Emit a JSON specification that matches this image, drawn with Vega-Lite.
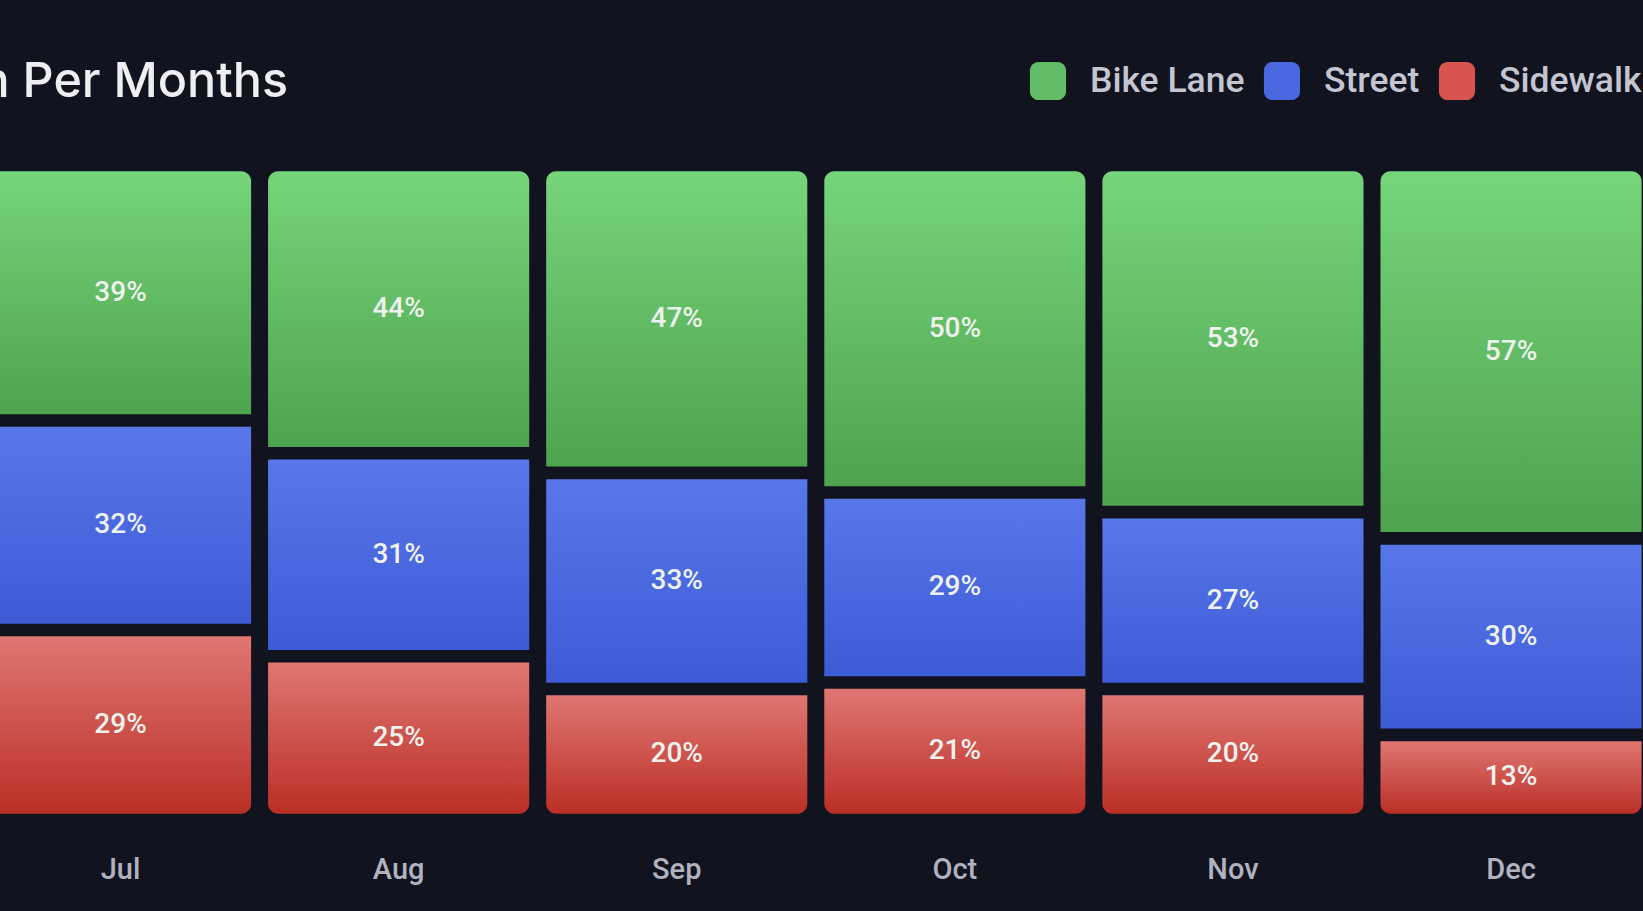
{
  "$schema": "https://vega.github.io/schema/vega-lite/v6.json",
  "width": 1668.6,
  "height": 655,
  "autosize": {"type": "none"},
  "padding": {"left": -18.5, "top": 165, "right": -7, "bottom": 91},
  "background": "#11131e",
  "config": {"view": {"stroke": null}},
  "title": {
    "text": "n Per Months",
    "anchor": "start",
    "frame": "group",
    "dx": -1,
    "offset": -83,
    "baseline": "alphabetic",
    "font": "Inter",
    "fontSize": 48.5,
    "fontWeight": 500,
    "color": "#eeeef3"
  },
  "data": {
    "values": [
      {"month": "Jul", "cat": "Bike Lane", "order": 3, "pct": 39},
      {"month": "Jul", "cat": "Street", "order": 2, "pct": 32},
      {"month": "Jul", "cat": "Sidewalk", "order": 1, "pct": 29},
      {"month": "Aug", "cat": "Bike Lane", "order": 3, "pct": 44},
      {"month": "Aug", "cat": "Street", "order": 2, "pct": 31},
      {"month": "Aug", "cat": "Sidewalk", "order": 1, "pct": 25},
      {"month": "Sep", "cat": "Bike Lane", "order": 3, "pct": 47},
      {"month": "Sep", "cat": "Street", "order": 2, "pct": 33},
      {"month": "Sep", "cat": "Sidewalk", "order": 1, "pct": 20},
      {"month": "Oct", "cat": "Bike Lane", "order": 3, "pct": 50},
      {"month": "Oct", "cat": "Street", "order": 2, "pct": 29},
      {"month": "Oct", "cat": "Sidewalk", "order": 1, "pct": 21},
      {"month": "Nov", "cat": "Bike Lane", "order": 3, "pct": 53},
      {"month": "Nov", "cat": "Street", "order": 2, "pct": 27},
      {"month": "Nov", "cat": "Sidewalk", "order": 1, "pct": 20},
      {"month": "Dec", "cat": "Bike Lane", "order": 3, "pct": 57},
      {"month": "Dec", "cat": "Street", "order": 2, "pct": 30},
      {"month": "Dec", "cat": "Sidewalk", "order": 1, "pct": 13}
    ]
  },
  "transform": [
    {"stack": "pct", "groupby": ["month"], "sort": [{"field": "order", "order": "ascending"}], "as": ["y0", "y1"]},
    {"calculate": "(datum.y0 + datum.y1) / 2", "as": "ymid"},
    {"calculate": "datum.pct + '%'", "as": "label"}
  ],
  "encoding": {
    "x": {
      "field": "month",
      "type": "nominal",
      "sort": ["Jul", "Aug", "Sep", "Oct", "Nov", "Dec"],
      "scale": {"paddingInner": 0.061, "paddingOuter": 0.0305},
      "axis": {
        "title": null,
        "domain": false,
        "ticks": false,
        "labelAngle": 0,
        "labelFont": "Roboto",
        "labelFontSize": 29,
        "labelFontWeight": 500,
        "labelColor": "#b0b3bf",
        "labelPadding": 36
      }
    }
  },
  "layer": [
    {
      "mark": {"type": "bar", "opacity": 0, "yOffset": 6.3, "y2Offset": -6.3},
      "encoding": {
        "y": {"field": "y1", "type": "quantitative", "scale": {"domain": [0, 100]}, "axis": null},
        "y2": {"field": "y0"},
        "color": {
          "field": "cat",
          "type": "nominal",
          "scale": {
            "domain": ["Bike Lane", "Street", "Sidewalk"],
            "range": ["#62bd66", "#4a69e0", "#d8544e"]
          },
          "legend": {
            "orient": "none",
            "legendX": 1047.5,
            "legendY": -103,
            "direction": "horizontal",
            "title": null,
            "padding": 0,
            "symbolType": "M-0.95,-0.55A0.45,0.45,0,0,1,-0.5,-1L0.5,-1A0.45,0.45,0,0,1,0.95,-0.55L0.95,0.55A0.45,0.45,0,0,1,0.5,1L-0.5,1A0.45,0.45,0,0,1,-0.95,0.55Z",
            "symbolSize": 1444,
            "symbolStrokeWidth": 0,
            "symbolOpacity": 1,
            "labelFont": "Roboto",
            "labelFontSize": 35.5,
            "labelFontWeight": 500,
            "labelColor": "#c3c6d0",
            "labelOffset": 23,
            "columnPadding": 18
          }
        }
      }
    },
    {
      "transform": [{"filter": "datum.cat === 'Bike Lane'"}],
      "mark": {
        "type": "bar",
        "yOffset": 6.3,
        "y2Offset": -6.3,
        "cornerRadiusTopLeft": 10,
        "cornerRadiusTopRight": 10,
        "color": {"gradient": "linear", "x1": 0, "y1": 0, "x2": 0, "y2": 1, "stops": [{"offset": 0, "color": "#76d57b"}, {"offset": 1, "color": "#4ea34e"}]}
      },
      "encoding": {
        "y": {"field": "y1", "type": "quantitative", "scale": {"domain": [0, 100]}, "axis": null},
        "y2": {"field": "y0"}
      }
    },
    {
      "transform": [{"filter": "datum.cat === 'Street'"}],
      "mark": {
        "type": "bar",
        "yOffset": 6.3,
        "y2Offset": -6.3,
        "color": {"gradient": "linear", "x1": 0, "y1": 0, "x2": 0, "y2": 1, "stops": [{"offset": 0, "color": "#5877ea"}, {"offset": 1, "color": "#3d5bd5"}]}
      },
      "encoding": {
        "y": {"field": "y1", "type": "quantitative", "scale": {"domain": [0, 100]}, "axis": null},
        "y2": {"field": "y0"}
      }
    },
    {
      "transform": [{"filter": "datum.cat === 'Sidewalk'"}],
      "mark": {
        "type": "bar",
        "yOffset": 6.3,
        "y2Offset": -6.3,
        "cornerRadiusBottomLeft": 10,
        "cornerRadiusBottomRight": 10,
        "color": {"gradient": "linear", "x1": 0, "y1": 0, "x2": 0, "y2": 1, "stops": [{"offset": 0, "color": "#e07672"}, {"offset": 1, "color": "#ba2f26"}]}
      },
      "encoding": {
        "y": {"field": "y1", "type": "quantitative", "scale": {"domain": [0, 100]}, "axis": null},
        "y2": {"field": "y0"}
      }
    },
    {
      "mark": {
        "type": "text",
        "font": "Roboto",
        "fontSize": 28,
        "fontWeight": 500,
        "color": "#eef2ee",
        "align": "center",
        "baseline": "middle"
      },
      "encoding": {
        "y": {"field": "ymid", "type": "quantitative", "scale": {"domain": [0, 100]}},
        "text": {"field": "label"}
      }
    }
  ]
}
